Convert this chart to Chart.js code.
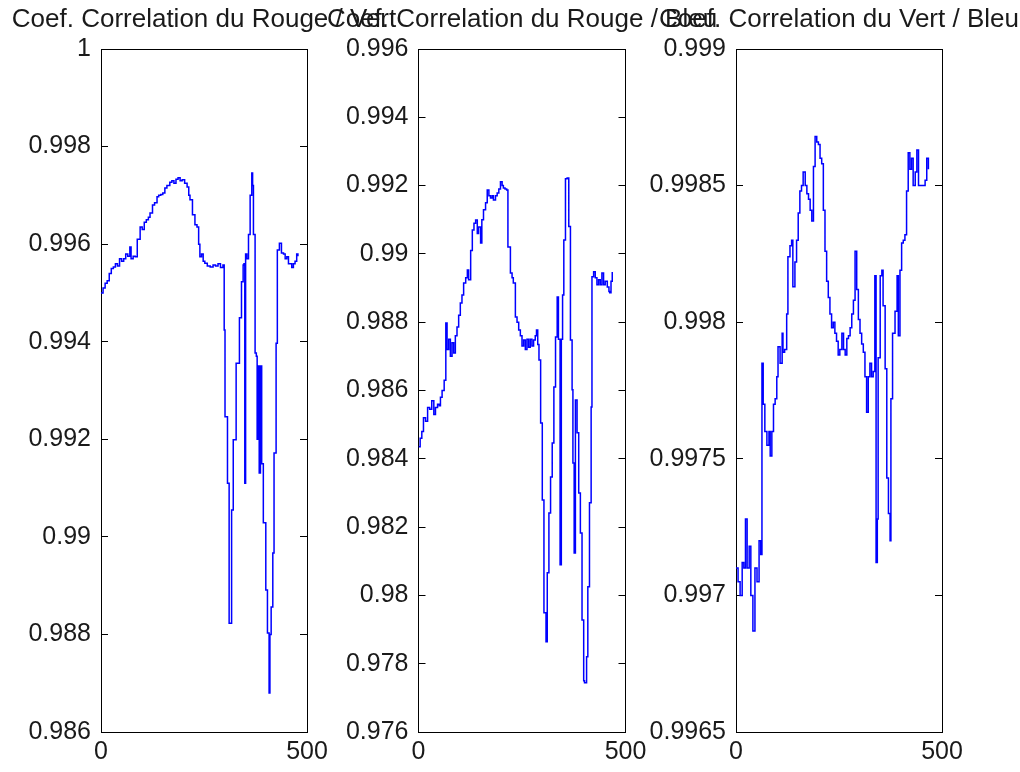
<!DOCTYPE html>
<html>
<head>
<meta charset="utf-8">
<script src="https://cdn.jsdelivr.net/npm/chart.js@4.4.0/dist/chart.umd.min.js"></script>
<style>
html, body { margin: 0; padding: 0; background: #fff; width: 1020px; height: 772px; overflow: hidden; position: relative; }
.plot { position: absolute; top: 0; width: 420px; height: 772px; }
</style>
</head>
<body>
<div class="plot"><canvas id="c1" width="420" height="772"></canvas></div>
<div class="plot"><canvas id="c2" width="420" height="772"></canvas></div>
<div class="plot"><canvas id="c3" width="420" height="772"></canvas></div>
<script>
// valeurs : [image, coefficient]
var rougeVert = [
  [0,0.9950],[5,0.9951],[10,0.9952],[15,0.99525],[20,0.9954],[25,0.9955],[30,0.99553],[35,0.9956],
  [40,0.99555],[45,0.9957],[50,0.99565],[55,0.9957],[60,0.9958],[65,0.99575],[70,0.99594],[73,0.9957],
  [78,0.99575],[83,0.99574],[88,0.9961],[95,0.99635],[100,0.9963],[105,0.99645],[110,0.9965],[115,0.99655],
  [119,0.99664],[125,0.9968],[130,0.99685],[136,0.99697],[140,0.9970],[145,0.99702],[150,0.99705],[155,0.99715],
  [160,0.9972],[167,0.99727],[172,0.9973],[177,0.99725],[182,0.99733],[187,0.99736],[192,0.9973],[197,0.99732],
  [203,0.99725],[209,0.99717],[213,0.9970],[216,0.99691],[222,0.9966],[228,0.9964],[233,0.99635],[237,0.9960],
  [240,0.99574],[244,0.9958],[248,0.99565],[252,0.99561],[258,0.99555],[265,0.99553],[272,0.99557],[278,0.99555],
  [284,0.9956],[290,0.99552],[296,0.99557],[299,0.99424],[301,0.99246],[304,0.99246],[307,0.9911],[309,0.9911],
  [311,0.98823],[314,0.98823],[317,0.99055],[321,0.99199],[328,0.99356],[336,0.99449],[341,0.99523],[345,0.99557],
  [347,0.9956],[349,0.9911],[351,0.9958],[354,0.9957],[358,0.9962],[362,0.9970],[366,0.99746],[368,0.9972],
  [370,0.9962],[374,0.99377],[377,0.9937],[379,0.9920],[381,0.9935],[384,0.99131],[387,0.9935],[390,0.9915],
  [394,0.99029],[400,0.98891],[404,0.98803],[408,0.9868],[410,0.9880],[413,0.98856],[417,0.98967],[420,0.99172],
  [425,0.99397],[428,0.99588],[433,0.99602],[438,0.99582],[443,0.9958],[447,0.9957],[451,0.99574],[455,0.9956],
  [459,0.9956],[463,0.99552],[467,0.9956],[471,0.99565],[475,0.9958],[478,0.99575]
];
var rougeBleu = [
  [0,0.98435],[4,0.9846],[8,0.9848],[12,0.9852],[17,0.9851],[22,0.9855],[27,0.98545],[32,0.9857],
  [37,0.9853],[41,0.9855],[46,0.9856],[50,0.98555],[53,0.9858],[57,0.9860],[62,0.9863],[66,0.98798],
  [69,0.9872],[73,0.9875],[77,0.9870],[81,0.9874],[85,0.9871],[89,0.9876],[93,0.98786],[97,0.9882],
  [101,0.98856],[105,0.9888],[109,0.98915],[114,0.9893],[118,0.98953],[121,0.98924],[126,0.9901],[130,0.9907],
  [134,0.9909],[138,0.99099],[142,0.9906],[145,0.99079],[150,0.99032],[153,0.9910],[157,0.99129],[162,0.9915],
  [166,0.99187],[170,0.9917],[174,0.99164],[178,0.9917],[181,0.99158],[186,0.9917],[190,0.99178],[194,0.9919],
  [198,0.99211],[202,0.9920],[205,0.99193],[209,0.9919],[213,0.99187],[216,0.9902],[222,0.98944],[226,0.9893],
  [229,0.98915],[234,0.98815],[238,0.9880],[242,0.98777],[246,0.9876],[250,0.9873],[254,0.98748],[258,0.9872],
  [262,0.9875],[266,0.98727],[270,0.9875],[274,0.9873],[278,0.98748],[282,0.9876],[285,0.98777],[288,0.98735],
  [291,0.98689],[295,0.98505],[299,0.98279],[303,0.97949],[308,0.97864],[311,0.98066],[315,0.98241],[319,0.98347],
  [323,0.98446],[327,0.9861],[331,0.98757],[335,0.98874],[338,0.9875],[342,0.9809],[345,0.9875],[348,0.9888],
  [351,0.99041],[355,0.9922],[359,0.99222],[363,0.9908],[367,0.98748],[371,0.98602],[373,0.98388],[376,0.98124],
  [379,0.98572],[383,0.98476],[387,0.983],[391,0.98183],[395,0.97928],[399,0.9775],[401,0.97744],[406,0.9782],
  [409,0.98025],[413,0.98271],[417,0.98552],[419,0.98933],[423,0.98948],[427,0.9893],[431,0.9891],[435,0.98924],
  [439,0.9891],[443,0.98944],[447,0.9891],[451,0.9892],[456,0.98903],[460,0.9889],[462,0.98886],[465,0.9892],
  [468,0.98947]
];
var vertBleu = [
  [0,0.9971],[5,0.99705],[10,0.9970],[15,0.99712],[19,0.9971],[23,0.99728],[27,0.9971],[32,0.99718],
  [36,0.9970],[41,0.99687],[46,0.9971],[51,0.99705],[56,0.9972],[60,0.99715],[63,0.99785],[66,0.9977],
  [70,0.9976],[75,0.99755],[80,0.9976],[83,0.99751],[87,0.9976],[91,0.9977],[95,0.99772],[99,0.9978],
  [102,0.99791],[107,0.99785],[112,0.99796],[114,0.99789],[118,0.9979],[123,0.99803],[126,0.99824],[131,0.99828],
  [135,0.9983],[138,0.99813],[143,0.99822],[147,0.9983],[151,0.9984],[155,0.99848],[159,0.9985],[163,0.99855],
  [168,0.9985],[172,0.99847],[176,0.99845],[180,0.99841],[184,0.99837],[188,0.99857],[192,0.99868],[196,0.99866],
  [200,0.99865],[204,0.9986],[208,0.99858],[212,0.99841],[216,0.99826],[220,0.99815],[224,0.99809],[228,0.99803],
  [232,0.99798],[236,0.998],[240,0.99796],[244,0.99793],[248,0.99788],[252,0.9979],[257,0.99796],[261,0.9979],
  [265,0.99788],[269,0.99794],[273,0.99795],[277,0.99798],[281,0.99803],[285,0.99808],[289,0.99826],[293,0.99812],
  [297,0.99801],[301,0.99796],[305,0.99792],[309,0.99789],[313,0.9978],[317,0.99767],[321,0.9978],[325,0.99785],
  [329,0.9978],[333,0.99782],[337,0.99817],[340,0.99712],[343,0.99728],[345,0.99787],[350,0.99817],[354,0.99819],
  [357,0.99806],[362,0.99783],[366,0.99743],[370,0.9973],[374,0.9972],[376,0.99772],[380,0.99796],[386,0.99804],
  [391,0.99817],[394,0.99795],[398,0.99819],[402,0.99829],[406,0.9983],[410,0.99832],[414,0.99848],[418,0.99862],
  [422,0.99856],[426,0.9986],[430,0.9985],[435,0.99855],[439,0.99863],[443,0.9985],[447,0.9985],[451,0.9985],
  [455,0.9985],[459,0.99852],[463,0.9986],[467,0.99856]
];

var xTicks = [0, 500];
var yTicks1 = [0.986, 0.988, 0.99, 0.992, 0.994, 0.996, 0.998, 1];
var yTicks2 = [0.976, 0.978, 0.98, 0.982, 0.984, 0.986, 0.988, 0.99, 0.992, 0.994, 0.996];
var yTicks3 = [0.9965, 0.997, 0.9975, 0.998, 0.9985, 0.999];

var police = "'Liberation Sans', Arial, sans-serif";
var HAUT = 49, BAS = 732, LARGEUR = 420;
var HAUT_TITRE = 4 + 26 * 1.2; // padding + hauteur de ligne du titre

function fixerTicks (liste) {
    return function (s) { s.ticks = liste.map(function (v) { return {value: v}; }); };
}

function tracer (idCanvas, titre, serie, yTicks, gauche, droite) {
    var debut = (gauche + droite) / 2 - LARGEUR / 2;
    var canvas = document.getElementById(idCanvas);
    canvas.parentNode.style.left = debut + 'px';

    var grille = {drawOnChartArea: false, tickLength: -7, color: '#000', tickColor: '#000', tickWidth: 1};
    var bord = {display: true, color: '#000', width: 1};
    var texte = {family: police, size: 25};

    return new Chart(canvas, {
        type: 'line',
        data: {
            datasets: [{
                data: serie.map(function (p) { return {x: p[0], y: p[1]}; }),
                borderColor: '#0000ff',
                borderWidth: 1.5,
                pointRadius: 0,
                tension: 0,
                stepped: true,
                fill: false
            }]
        },
        options: {
            responsive: false,
            animation: false,
            events: [],
            layout: {padding: 0},
            plugins: {
                legend: {display: false},
                tooltip: {enabled: false},
                title: {
                    display: true, text: titre, color: '#1a1a1a',
                    font: {family: police, size: 26, weight: 'normal', lineHeight: 1.2},
                    padding: {top: 4, bottom: 0}
                }
            },
            scales: {
                x: {
                    type: 'linear', position: 'bottom', min: 0, max: 500,
                    afterBuildTicks: fixerTicks(xTicks),
                    afterFit: function (s) { s.height = 772 - BAS; },
                    grid: grille, border: bord,
                    ticks: {color: '#1a1a1a', font: texte, padding: 12, maxRotation: 0, autoSkip: false,
                            callback: function (v) { return String(v); }}
                },
                xHaut: {
                    type: 'linear', position: 'top', min: 0, max: 500,
                    afterBuildTicks: fixerTicks(xTicks),
                    afterFit: function (s) { s.height = HAUT - HAUT_TITRE; },
                    grid: grille, border: bord,
                    ticks: {display: false}
                },
                y: {
                    type: 'linear', position: 'left',
                    min: yTicks[0], max: yTicks[yTicks.length - 1],
                    afterBuildTicks: fixerTicks(yTicks),
                    afterFit: function (s) { s.width = gauche - debut; },
                    grid: grille, border: bord,
                    ticks: {color: '#1a1a1a', font: texte, padding: 17, autoSkip: false,
                            callback: function (v) { return String(v); }}
                },
                yDroite: {
                    type: 'linear', position: 'right',
                    min: yTicks[0], max: yTicks[yTicks.length - 1],
                    afterBuildTicks: fixerTicks(yTicks),
                    afterFit: function (s) { s.width = debut + LARGEUR - droite; },
                    grid: grille, border: bord,
                    ticks: {display: false}
                }
            }
        }
    });
}

tracer('c1', 'Coef. Correlation du Rouge / Vert', rougeVert, yTicks1, 101, 307);
tracer('c2', 'Coef. Correlation du Rouge / Bleu', rougeBleu, yTicks2, 418, 625);
tracer('c3', 'Coef. Correlation du Vert / Bleu', vertBleu, yTicks3, 736, 942);
</script>
</body>
</html>
